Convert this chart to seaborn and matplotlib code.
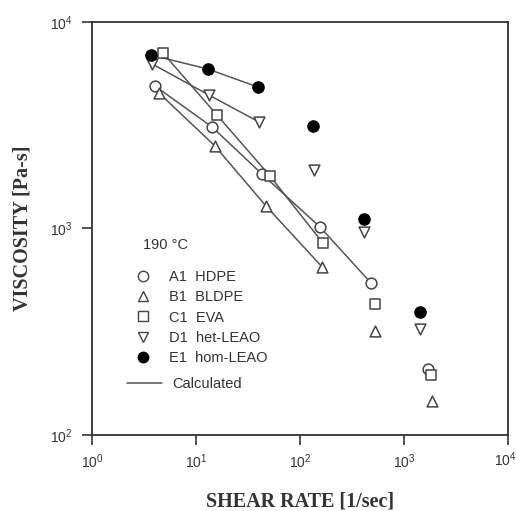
import matplotlib
matplotlib.use("Agg")
import matplotlib.pyplot as plt
import seaborn as sns
import pandas as pd
from matplotlib.lines import Line2D
from matplotlib.ticker import LogLocator, NullLocator, FuncFormatter

sns.set_theme(style="ticks")
plt.rcParams['font.family'] = ['Liberation Sans', 'DejaVu Sans']
plt.rcParams['mathtext.fontset'] = 'custom'
plt.rcParams['mathtext.rm'] = 'Liberation Sans'

# ---- data ----
samples = ["A1  HDPE", "B1  BLDPE", "C1  EVA", "D1  het-LEAO", "E1  hom-LEAO"]

a1_rate = [4.03, 14.3, 43.1, 156, 481, 1702]
a1_visc = [4900, 3100, 1835, 1016, 545, 209]

b1_rate = [4.41, 15.2, 47.1, 163, 526, 1859]
b1_visc = [4530, 2510, 1285, 652, 319, 146]

c1_rate = [4.81, 15.9, 51.5, 166, 526, 1818]
c1_visc = [7080, 3545, 1795, 851, 431, 195]

d1_rate = [3.78, 13.3, 40.3, 136, 412, 1425]
d1_visc = [6270, 4430, 3280, 1920, 962, 326]

e1_rate = [3.69, 13.0, 39.5, 133, 412, 1425]
e1_visc = [6920, 5920, 4840, 3135, 1110, 394]

# number of leading points covered by the calculated curve of each sample
calc_points = [5, 4, 4, 3, 3]

legend_title = "190 °C"
calc_label = "Calculated"

rates = [a1_rate, b1_rate, c1_rate, d1_rate, e1_rate]
viscs = [a1_visc, b1_visc, c1_visc, d1_visc, e1_visc]
markers = ["o", "^", "s", "v", "o"]
filled = [False, False, False, False, True]

rows = []
for s, r, v in zip(samples, rates, viscs):
    for ri, vi in zip(r, v):
        rows.append({"sample": s, "rate": ri, "visc": vi})
df = pd.DataFrame(rows)

calc_rows = []
for s, r, v, n in zip(samples, rates, viscs, calc_points):
    for ri, vi in zip(r[:n], v[:n]):
        calc_rows.append({"sample": s, "rate": ri, "visc": vi})
calc = pd.DataFrame(calc_rows)

ink = "#333333"
line_col = "#555555"

fig = plt.figure(figsize=(5.16, 5.11), dpi=100)
ax = fig.add_axes([92/516, 1-435/511, 416/516, 413/511])

sns.lineplot(data=calc, x="rate", y="visc", units="sample", estimator=None,
             sort=False, color=line_col, lw=1.1, ax=ax, legend=False)

for s, m, f in zip(samples, markers, filled):
    sub = df[df["sample"] == s]
    if f:
        sns.scatterplot(data=sub, x="rate", y="visc", marker=m, s=65,
                        color="black", edgecolor="black", linewidth=1.0,
                        ax=ax, legend=False, zorder=3)
    else:
        sns.scatterplot(data=sub, x="rate", y="visc", marker=m, s=60,
                        facecolor="white", edgecolor="#444444", linewidth=1.1,
                        ax=ax, legend=False, zorder=3)

ax.set_xscale("log")
ax.set_yscale("log")
x_min, x_max = 1, 1e4
ax.set_xlim(x_min, x_max)
ax.set_ylim(100, 1e4)
ax.xaxis.set_major_locator(LogLocator(base=10, numticks=10))
ax.yaxis.set_major_locator(LogLocator(base=10, numticks=10))
ax.xaxis.set_minor_locator(NullLocator())
ax.yaxis.set_minor_locator(NullLocator())


def pow_fmt(v, pos):
    return r"$\mathdefault{10^{%d}}$" % round(__import__("math").log10(v))


def xfmt(v, pos):
    # the last label is drawn separately so that it stays inside the figure
    if v >= x_max * 0.999:
        return ""
    return pow_fmt(v, pos)


ax.xaxis.set_major_formatter(FuncFormatter(xfmt))
ax.yaxis.set_major_formatter(FuncFormatter(pow_fmt))
ax.tick_params(which="major", direction="out", length=7, width=1.2,
               color=ink, labelsize=10, labelcolor=ink)
ax.tick_params(axis="x", pad=5.5)
ax.tick_params(axis="y", pad=7)
for sp in ax.spines.values():
    sp.set_linewidth(1.3)
    sp.set_color(ink)

ax.annotate(pow_fmt(x_max, None), xy=(x_max, 0),
            xycoords=("data", "axes fraction"), xytext=(-2, -17.5),
            textcoords="offset points", ha="center", va="center",
            fontsize=10, color=ink, annotation_clip=False)

ax.set_xlabel("SHEAR RATE [1/sec]", family="Liberation Serif", weight="bold",
              fontsize=14.5, color=ink)
ax.set_ylabel("VISCOSITY [Pa-s]", family="Liberation Serif", weight="bold",
              fontsize=14.5, color=ink)
ax.xaxis.set_label_coords(0.5, (435 - 491) / 413)
ax.yaxis.set_label_coords((33 - 92) / 416, 0.5)

ax.text((143 - 92) / 416, (435 - 245) / 413, legend_title, transform=ax.transAxes,
        ha="left", va="center", fontsize=10.5, color=ink)

handles = []
for s, m, f in zip(samples, markers, filled):
    handles.append(Line2D([], [], ls="none", marker=m, markersize=7.5,
                          markerfacecolor="black" if f else "white",
                          markeredgecolor="black" if f else "#444444",
                          markeredgewidth=1.0, label=s))
leg1 = ax.legend(handles=handles, loc="upper left",
                 bbox_to_anchor=((134 - 92) / 416, (435 - 270) / 413),
                 frameon=False, fontsize=10.5, handlelength=1.2,
                 handletextpad=1.2, labelspacing=0.43, borderpad=0,
                 borderaxespad=0, labelcolor=ink)
ax.add_artist(leg1)

calc_handle = [Line2D([], [], color=line_col, lw=1.1, label=calc_label)]
ax.legend(handles=calc_handle, loc="upper left",
          bbox_to_anchor=((127 - 92) / 416, (435 - 377) / 413),
          frameon=False, fontsize=10.5, handlelength=2.4, handletextpad=0.7,
          borderpad=0, borderaxespad=0, labelcolor=ink)

fig.savefig("out.png", dpi=100)
